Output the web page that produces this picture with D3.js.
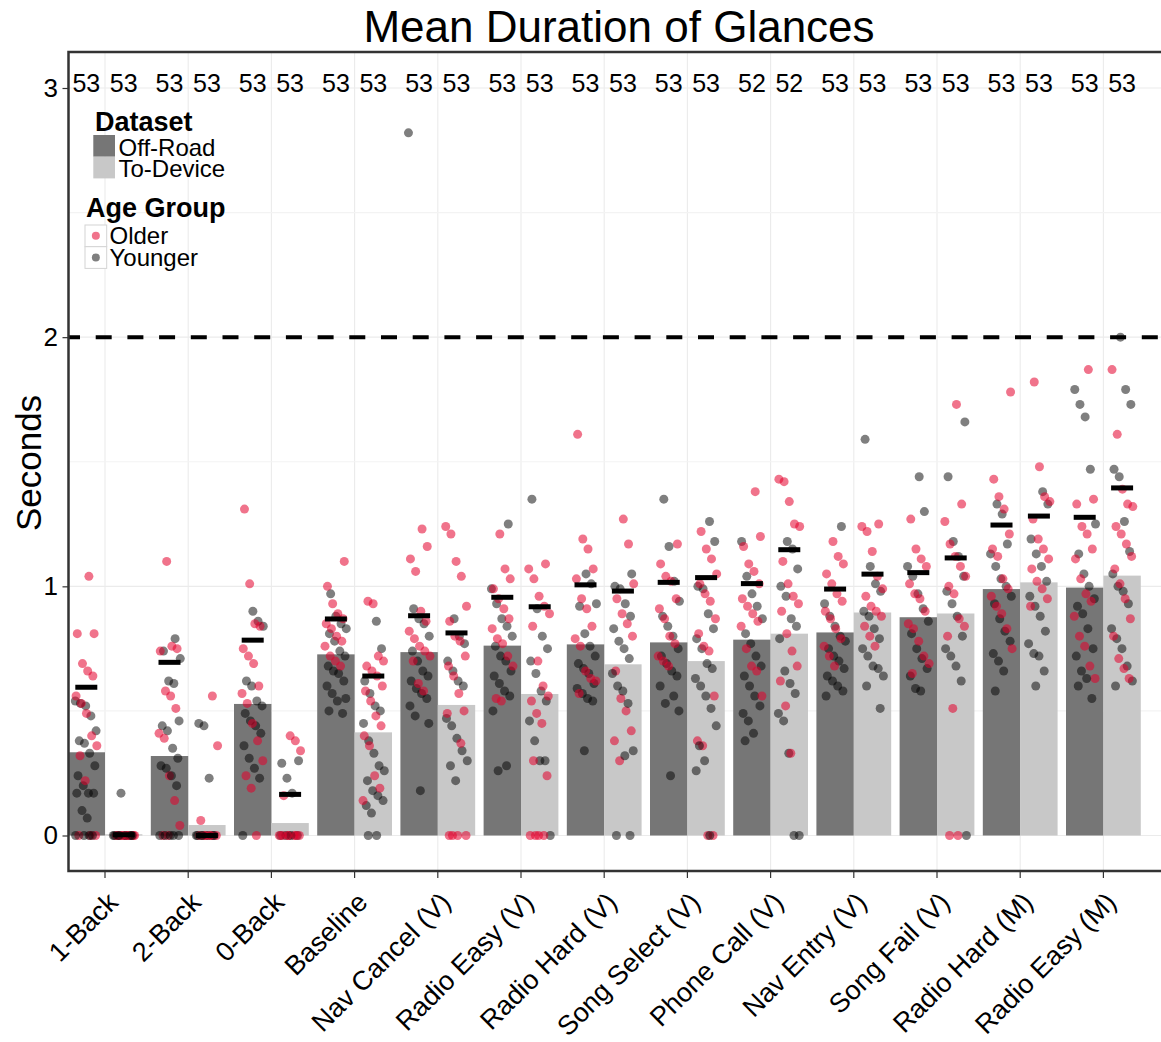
<!DOCTYPE html>
<html>
<head>
<meta charset="utf-8" />
<script src="https://d3js.org/d3.v7.min.js"></script>
<style>
  body { margin: 0; background: #fff; }
  text { font-family: "Liberation Sans", Arial, sans-serif; fill: #000; }
</style>
</head>
<body>
<script>
// categories
var tasks = ["1-Back", "2-Back", "0-Back", "Baseline", "Nav Cancel (V)", "Radio Easy (V)",
  "Radio Hard (V)", "Song Select (V)", "Phone Call (V)", "Nav Entry (V)", "Song Fail (V)",
  "Radio Hard (M)", "Radio Easy (M)"];
var datasets = ["Off-Road", "To-Device"];
var ages = ["Older", "Younger"];

// bar heights (seconds)
var barOffRoad = [0.334, 0.319, 0.528, 0.727, 0.736, 0.762, 0.767, 0.775, 0.786, 0.815, 0.876, 0.989, 0.995];
var barToDevice = [0.005, 0.042, 0.050, 0.414, 0.524, 0.568, 0.687, 0.700, 0.810, 0.895, 0.891, 1.016, 1.043];
// black marks
var meanOffRoad = [0.595, 0.695, 0.784, 0.869, 0.882, 0.956, 1.006, 1.016, 1.011, 0.989, 1.055, 1.246, 1.277];
var meanToDevice = [0.003, 0.0, 0.165, 0.640, 0.813, 0.918, 0.981, 1.035, 1.147, 1.049, 1.114, 1.282, 1.395];
// counts on top
var nOffRoad = [53, 53, 53, 53, 53, 53, 53, 53, 52, 53, 53, 53, 53];
var nToDevice = [53, 53, 53, 53, 53, 53, 53, 53, 52, 53, 53, 53, 53];

// per-driver points
var olderOffRoad = [
  [1.04,0.81,0.81,0.69,0.66,0.64,0.56,0.53,0.49,0.40,0.36,0.32,0.22,0,0,0],
  [1.10,0.76,0.75,0.74,0.58,0.56,0.51,0.41,0.39,0.24,0.14,0.04,0,0],
  [1.31,1.01,0.85,0.84,0.75,0.72,0.69,0.60,0.57,0.53,0.45,0.38,0.30,0.24,0.19,0],
  [1.10,1.00,0.93,0.89,0.87,0.85,0.83,0.80,0.78,0.76,0.72,0.70,0.68],
  [1.23,1.16,1.11,1.06,0.90,0.86,0.82,0.79,0.76,0.74,0.72,0.70,0.61,0.58],
  [1.21,1.07,1.03,0.99,0.95,0.91,0.87,0.83,0.79,0.77,0.72,0.68,0.55,0.54],
  [1.61,1.19,1.15,1.07,1.03,0.95,0.91,0.84,0.79,0.76,0.66,0.63,0.62,0.57],
  [1.17,1.09,1.04,1.02,0.95,0.91,0.87,0.80,0.77,0.72,0.70,0.68],
  [1.38,1.20,1.16,1.09,1.06,1.01,0.95,0.92,0.89,0.86,0.84,0.75,0.68,0.66,0.56],
  [1.18,1.12,1.09,1.05,1.01,0.97,0.94,0.90,0.87,0.83,0.79,0.76,0.72,0.68],
  [1.27,1.15,1.11,1.08,1.01,0.97,0.95,0.90,0.85,0.83,0.78,0.72,0.69,0.65],
  [1.78,1.43,1.36,1.31,1.21,1.15,1.12,1.03,0.99,0.96,0.92,0.89,0.83,0.75],
  [1.87,1.35,1.33,1.24,1.21,1.15,1.11,1.03,0.97,0.94,0.88,0.80,0.76,0.68,0.63]
];
var youngerOffRoad = [
  [0.54,0.53,0.52,0.48,0.42,0.38,0.37,0.33,0.28,0.24,0.20,0.17,0.17,0.17,0.10,0.07,0,0,0,0],
  [0.79,0.71,0.74,0.62,0.61,0.46,0.44,0.42,0.35,0.31,0.28,0.27,0.24,0.20,0,0,0,0,0],
  [0.90,0.86,0.84,0.62,0.60,0.54,0.52,0.49,0.46,0.44,0.41,0.36,0.31,0.27,0.23,0],
  [0.97,0.88,0.85,0.83,0.81,0.78,0.74,0.72,0.68,0.66,0.65,0.62,0.60,0.57,0.55,0.54,0.50,0.49],
  [2.82,0.91,0.87,0.85,0.80,0.74,0.70,0.66,0.64,0.62,0.59,0.57,0.55,0.52,0.48,0.45,0.18],
  [1.25,0.99,0.93,0.87,0.84,0.80,0.76,0.72,0.70,0.66,0.64,0.61,0.58,0.56,0.50,0.28,0.26],
  [1.05,1.01,0.93,0.92,0.81,0.76,0.72,0.69,0.67,0.65,0.61,0.59,0.57,0.55,0.54,0.34],
  [1.35,1.16,1.02,0.94,0.88,0.84,0.80,0.75,0.72,0.69,0.66,0.64,0.60,0.56,0.53,0.50,0.24],
  [1.18,1.04,0.97,0.92,0.87,0.81,0.77,0.72,0.68,0.64,0.60,0.56,0.52,0.49,0.46,0.41,0.38],
  [1.24,0.93,0.88,0.84,0.80,0.78,0.75,0.72,0.70,0.67,0.64,0.62,0.60,0.58,0.56],
  [1.44,1.30,1.08,1.04,0.97,0.91,0.86,0.81,0.75,0.71,0.67,0.64,0.59,0.58],
  [1.33,1.29,1.17,1.13,1.08,1.03,1.00,0.96,0.93,0.87,0.82,0.78,0.73,0.70,0.66,0.58],
  [1.79,1.73,1.68,1.47,1.25,1.13,1.05,1.00,0.95,0.92,0.89,0.83,0.75,0.72,0.66,0.63,0.60,0.55]
];
var olderToDevice = [
  [0,0,0,0,0,0,0,0],
  [0.56,0.36,0.06,0,0,0,0,0,0],
  [0.40,0.38,0.34,0.16,0,0,0,0,0,0,0],
  [0.94,0.93,0.72,0.70,0.68,0.66,0.64,0.60,0.58,0.54,0.48,0.44,0.40,0.36,0.24,0.19,0.14],
  [1.24,1.21,1.10,1.04,0.92,0.86,0.80,0.78,0.72,0.68,0.64,0.57,0.50,0.49,0.37,0,0,0,0],
  [1.09,1.07,1.03,0.96,0.92,0.89,0.84,0.70,0.60,0.56,0.54,0.49,0.45,0.30,0.24,0,0,0,0],
  [1.27,1.17,1.01,0.95,0.89,0.85,0.80,0.66,0.55,0.50,0.42,0.38,0.30],
  [1.22,1.15,1.11,1.05,1.01,0.97,0.94,0.87,0.81,0.76,0.74,0.56,0.38,0.36,0,0],
  [1.43,1.42,1.34,1.25,1.24,1.10,1.01,0.96,0.93,0.90,0.81,0.74,0.68,0.62,0.52,0.33],
  [1.25,1.24,1.22,1.14,1.04,0.99,0.96,0.92,0.90,0.88,0.84,0.80,0.76],
  [1.73,1.33,1.26,1.17,1.12,1.08,1.04,1.00,0.97,0.87,0.84,0.80,0.51,0,0],
  [1.82,1.48,1.36,1.34,1.27,1.19,1.15,1.11,1.07,1.02,0.99,0.95,0.92],
  [1.87,1.61,1.39,1.33,1.32,1.24,1.21,1.17,1.12,1.07,1.01,0.95,0.87,0.80,0.71,0.67,0.63]
];
var youngerToDevice = [
  [0.17,0,0,0,0,0,0,0,0,0],
  [0.45,0.44,0.23,0,0,0,0,0,0,0],
  [0.30,0.29,0.23,0.17,0,0,0,0],
  [0.86,0.75,0.62,0.57,0.52,0.50,0.45,0.38,0.33,0.28,0.26,0.22,0.18,0.16,0.14,0.12,0.09,0,0],
  [0.87,0.80,0.77,0.70,0.66,0.62,0.60,0.47,0.44,0.39,0.34,0.30,0.28,0.22],
  [1.35,0.91,0.80,0.75,0.70,0.65,0.58,0.54,0.46,0.38,0.30,0.30,0],
  [1.05,1.00,0.99,0.93,0.88,0.83,0.78,0.75,0.71,0.65,0.60,0.58,0.53,0.34,0.32,0,0],
  [1.26,1.18,1.00,0.99,0.89,0.83,0.79,0.75,0.69,0.67,0.63,0.60,0.56,0.51,0.44,0.36,0.30,0.26,0],
  [1.18,1.15,1.07,1.00,0.96,0.87,0.84,0.79,0.66,0.61,0.57,0.49,0.46,0.33,0,0],
  [1.59,1.08,1.01,0.98,0.90,0.88,0.83,0.79,0.75,0.72,0.68,0.67,0.64,0.60,0.51],
  [1.66,1.44,1.18,1.12,1.04,0.98,0.93,0.88,0.80,0.75,0.72,0.68,0.62,0],
  [1.38,1.33,1.19,1.13,1.08,1.02,0.96,0.92,0.88,0.82,0.77,0.73,0.72,0.66,0.60],
  [2.00,1.79,1.73,1.47,1.44,1.26,1.14,1.05,1.00,0.98,0.93,0.83,0.79,0.75,0.68,0.62,0.60]
];
var limitLine = 2;

var width = 1161, height = 1042;
var pLeft = 68.5, pTop = 52, pBottom = 871, pRight = 1190;

var colDataset = d3.scaleOrdinal().domain(datasets).range(["#767676", "#c8c8c8"]);
var colAge = d3.scaleOrdinal().domain(ages).range(["#e4002b", "#000000"]);
var ageOpacity = { "Older": 0.55, "Younger": 0.5 };

var x = d3.scaleBand().domain(tasks).range([63.4, 63.4 + 83.2 * tasks.length]);
var xs = d3.scaleBand().domain(datasets).range([0, x.bandwidth()]).paddingOuter(0.1125);
var y = d3.scaleLinear().domain([0, 3]).range([835.5, 88]);

var svg = d3.select("body").append("svg")
  .attr("width", width)
  .attr("height", height);

svg.append("clipPath").attr("id", "panel")
  .append("rect")
  .attr("x", pLeft).attr("y", pTop)
  .attr("width", pRight - pLeft).attr("height", pBottom - pTop);

var g = svg.append("g").attr("clip-path", "url(#panel)");

// grid
g.selectAll(".vgrid").data(tasks).enter().append("line")
  .attr("x1", d => x(d) + x.bandwidth() / 2).attr("x2", d => x(d) + x.bandwidth() / 2)
  .attr("y1", pTop).attr("y2", pBottom)
  .attr("stroke", "#ebebeb").attr("stroke-width", 1.1);
g.selectAll(".hminor").data([0.5, 1.5, 2.5]).enter().append("line")
  .attr("x1", pLeft).attr("x2", pRight)
  .attr("y1", d => y(d)).attr("y2", d => y(d))
  .attr("stroke", "#f3f3f3").attr("stroke-width", 1.1);
g.selectAll(".hmajor").data([0, 1, 2, 3]).enter().append("line")
  .attr("x1", pLeft).attr("x2", pRight)
  .attr("y1", d => y(d)).attr("y2", d => y(d))
  .attr("stroke", "#ebebeb").attr("stroke-width", 1.1);

// bars
var bars = [];
tasks.forEach(function (t, i) {
  bars.push({ task: t, ds: "Off-Road", v: barOffRoad[i], mean: meanOffRoad[i], n: nOffRoad[i], i: i });
  bars.push({ task: t, ds: "To-Device", v: barToDevice[i], mean: meanToDevice[i], n: nToDevice[i], i: i });
});

g.selectAll(".bar").data(bars).enter().append("rect")
  .attr("x", d => x(d.task) + xs(d.ds))
  .attr("width", xs.bandwidth())
  .attr("y", d => y(d.v))
  .attr("height", d => y(0) - y(d.v))
  .attr("fill", d => colDataset(d.ds));

// 2 second line
g.append("line")
  .attr("x1", pLeft).attr("x2", pRight)
  .attr("y1", y(limitLine)).attr("y2", y(limitLine))
  .attr("stroke", "#000").attr("stroke-width", 4)
  .attr("stroke-dasharray", "16,15.7")
  .attr("stroke-dashoffset", 4.5);

// points
var pts = [];
var sets = { "Off-Road": [olderOffRoad, youngerOffRoad], "To-Device": [olderToDevice, youngerToDevice] };
bars.forEach(function (b, bi) {
  var o = sets[b.ds][0][b.i], yg = sets[b.ds][1][b.i];
  var m = Math.max(o.length, yg.length);
  var k = 0;
  for (var j = 0; j < m; j++) {
    if (j < yg.length) pts.push({ bar: b, age: "Younger", v: yg[j], k: k++, bi: bi });
    if (j < o.length) pts.push({ bar: b, age: "Older", v: o[j], k: k++, bi: bi });
  }
});
// spread points sideways within the bar
function jitter(p) {
  var f = (p.k * 0.618034 + p.bi * 0.377) % 1;
  return (f - 0.5) * 22;
}
g.selectAll(".pt").data(pts).enter().append("circle")
  .attr("cx", d => x(d.bar.task) + xs(d.bar.ds) + xs.bandwidth() / 2 + jitter(d))
  .attr("cy", d => y(d.v))
  .attr("r", 4.5)
  .attr("fill", d => colAge(d.age))
  .attr("fill-opacity", d => ageOpacity[d.age]);

// mean marks
g.selectAll(".mean").data(bars).enter().append("rect")
  .attr("x", d => x(d.task) + xs(d.ds) + xs.bandwidth() / 2 - 11)
  .attr("width", 22)
  .attr("y", d => y(d.mean) - 2.5)
  .attr("height", 5)
  .attr("fill", "#000");

// counts
g.selectAll(".cnt").data(bars).enter().append("text")
  .attr("x", d => x(d.task) + xs(d.ds) + xs.bandwidth() / 2)
  .attr("y", y(3) + 4)
  .attr("text-anchor", "middle")
  .style("font-size", "25px")
  .text(d => d.n);

// panel border
svg.append("rect")
  .attr("x", pLeft).attr("y", pTop)
  .attr("width", pRight - pLeft).attr("height", pBottom - pTop)
  .attr("fill", "none").attr("stroke", "#333").attr("stroke-width", 2.5);

// axes
var yAxis = svg.append("g")
  .attr("transform", "translate(" + pLeft + ",0)")
  .call(d3.axisLeft(y).tickValues([0, 1, 2, 3]).tickFormat(d3.format("d")).tickSize(6).tickPadding(4.5));
yAxis.select(".domain").remove();
yAxis.selectAll("line").attr("stroke", "#333").attr("stroke-width", 1.2);
yAxis.selectAll("text").style("font-size", "26px").attr("fill", "#000")
  .style("font-family", "'Liberation Sans', Arial, sans-serif");

var xAxis = svg.append("g")
  .attr("transform", "translate(0," + pBottom + ")")
  .call(d3.axisBottom(x).tickSize(7));
xAxis.select(".domain").remove();
xAxis.selectAll("line").attr("stroke", "#333").attr("stroke-width", 1.2);
xAxis.selectAll("text")
  .style("font-size", "27px").attr("fill", "#000")
  .style("font-family", "'Liberation Sans', Arial, sans-serif")
  .attr("text-anchor", "end")
  .attr("x", -13).attr("y", 14).attr("dy", "0.72em")
  .attr("transform", "rotate(-45)");

// titles
svg.append("text")
  .attr("x", 619).attr("y", 42)
  .attr("text-anchor", "middle")
  .style("font-size", "44px")
  .text("Mean Duration of Glances");

svg.append("text")
  .attr("transform", "translate(41,463) rotate(-90)")
  .attr("text-anchor", "middle")
  .style("font-size", "35px")
  .text("Seconds");

// legend: dataset
var leg = svg.append("g");
leg.append("text").attr("x", 95).attr("y", 131)
  .style("font-size", "27px").style("font-weight", "bold").text("Dataset");
leg.selectAll(".dk").data(datasets).enter().append("rect")
  .attr("x", 93.3).attr("y", (d, i) => 135 + i * 21.7)
  .attr("width", 21.7).attr("height", 21.7)
  .attr("fill", d => colDataset(d));
leg.selectAll(".dl").data(datasets).enter().append("text")
  .attr("x", 118.5).attr("y", (d, i) => 155.5 + i * 21.7)
  .style("font-size", "24px").text(d => d);

// legend: age
leg.append("text").attr("x", 86).attr("y", 217)
  .style("font-size", "27px").style("font-weight", "bold").text("Age Group");
leg.selectAll(".ak").data(ages).enter().append("rect")
  .attr("x", 85).attr("y", (d, i) => 225 + i * 21.7)
  .attr("width", 21.7).attr("height", 21.7)
  .attr("fill", "#fff").attr("stroke", "#d4d4d4").attr("stroke-width", 1);
leg.selectAll(".ad").data(ages).enter().append("circle")
  .attr("cx", 85 + 10.85).attr("cy", (d, i) => 225 + 10.85 + i * 21.7)
  .attr("r", 4)
  .attr("fill", d => colAge(d))
  .attr("fill-opacity", d => ageOpacity[d]);
leg.selectAll(".al").data(ages).enter().append("text")
  .attr("x", 109.5).attr("y", (d, i) => 244 + i * 22)
  .style("font-size", "24px").text(d => d);
</script>
</body>
</html>
